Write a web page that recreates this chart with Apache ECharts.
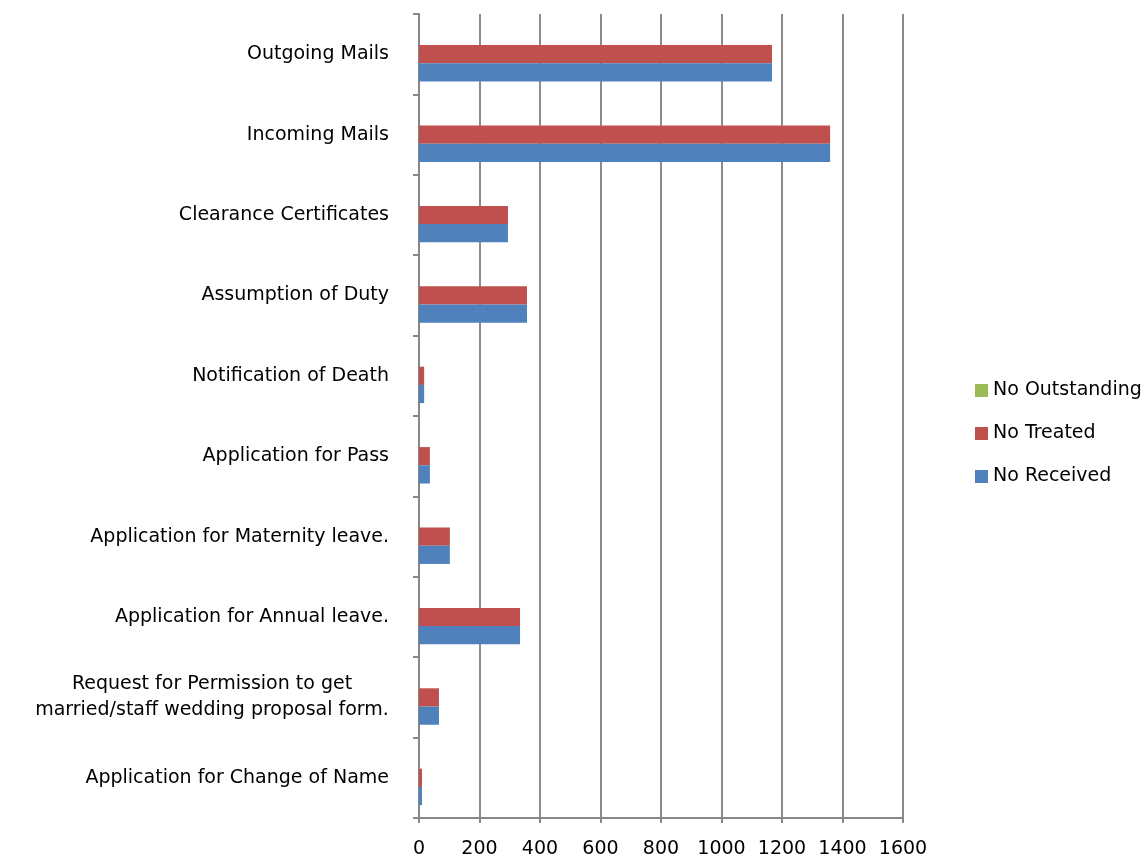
<!DOCTYPE html>
<html>
<head>
  <meta charset="utf-8" />
  <title>Requests</title>
  <script src="https://cdn.jsdelivr.net/npm/echarts@6/dist/echarts.min.js"></script>
</head>
<body style="margin: 0">
  <div id="main" style="width: 1146px; height: 861px"></div>
  <script>
    // bottom to top, as on the category axis
    let categories = [
      "Application for Change of Name",
      "Request for Permission to get\nmarried/staff wedding proposal form.",
      "Application for Annual leave.",
      "Application for Maternity leave.",
      "Application for Pass",
      "Notification of Death",
      "Assumption of Duty",
      "Clearance Certificates",
      "Incoming Mails",
      "Outgoing Mails",
    ];
    let dataReceived = [10, 66, 334, 102, 36, 17, 357, 294, 1359, 1167];
    let dataTreated = [10, 66, 334, 102, 36, 17, 357, 294, 1359, 1167];
    let dataOutstanding = [0, 0, 0, 0, 0, 0, 0, 0, 0, 0];
    let xTicks = [0, 1600, 200];

    let labelFont = { fontFamily: "DejaVu Sans", fontSize: 19, color: "#000" };

    option = {
      animation: false,
      grid: {
        left: 419,
        right: 243,
        top: 14,
        bottom: 43,
      },
      legend: {
        orient: "vertical",
        left: 970,
        top: 376,
        itemWidth: 13,
        itemHeight: 13,
        itemGap: 24,
        icon: "rect",
        textStyle: labelFont,
        data: ["No Outstanding", "No Treated", "No Received"],
      },
      xAxis: {
        type: "value",
        min: xTicks[0],
        max: xTicks[1],
        interval: xTicks[2],
        axisLine: { show: true, lineStyle: { color: "#878787", width: 2 } },
        axisTick: { show: true, length: 5, lineStyle: { color: "#878787", width: 2 } },
        splitLine: { show: true, lineStyle: { color: "#8c8c8c", width: 2 } },
        axisLabel: Object.assign(
          {
            margin: 22,
            formatter: function (v) {
              return String(v);
            },
          },
          labelFont
        ),
      },
      yAxis: {
        type: "category",
        data: categories,
        axisLine: { show: true, lineStyle: { color: "#878787", width: 2 } },
        axisTick: { show: true, length: 6, lineStyle: { color: "#878787", width: 2 } },
        axisLabel: Object.assign(
          {
            margin: 30,
            lineHeight: 26,
            formatter: function (v) {
              if (v.indexOf("\n") < 0) return v;
              return v.split("\n").map((s) => "{c|" + s + "}").join("\n");
            },
            rich: {
              c: Object.assign({ width: 354, align: "center", lineHeight: 26 }, labelFont),
            },
          },
          labelFont
        ),
      },
      series: [
        {
          name: "No Outstanding",
          type: "bar",
          data: dataOutstanding,
          itemStyle: { color: "#9BBB59" },
          barGap: 0,
          barCategoryGap: "32%",
        },
        {
          name: "No Treated",
          type: "bar",
          data: dataTreated,
          itemStyle: { color: "#C0504D" },
        },
        {
          name: "No Received",
          type: "bar",
          data: dataReceived,
          itemStyle: { color: "#4F81BD" },
        },
      ],
    };
    chartBar = echarts.init(document.getElementById("main"));
    chartBar.setOption(option);
  </script>
</body>
</html>
